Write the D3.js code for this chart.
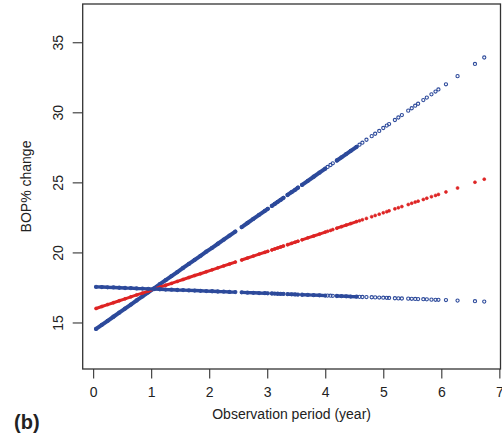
<!DOCTYPE html>
<html><head><meta charset="utf-8">
<script src="https://cdn.jsdelivr.net/npm/d3@7"></script>
<style>body{margin:0;background:#fff}svg{display:block}text{font-family:"Liberation Sans",Arial,sans-serif;fill:#222}</style>
</head><body><svg id="c" width="502" height="439"></svg>
<script>
// Observation times (years)
const times = [0.05,0.15,0.25,0.35,0.45,0.55,0.65,0.75,0.85,0.95,1.05,1.15,1.25,1.35,1.45,1.55,1.65,1.75,1.85,1.95,2.05,2.15,2.25,2.35,2.45,
  2.56,2.66,2.76,2.86,2.96,3.01, 3.08,3.13,3.18,3.23,3.28, 3.35,3.42,3.48,3.53, 3.60,3.70,3.80,3.90,4.00,
  4.04,4.09,4.13, 4.20,4.28,4.36,4.44,4.54, 4.59,4.64,4.71,
  4.80,4.86,4.93,5.00,5.06,5.10,5.20,5.26,5.32,5.43,5.49,5.55,5.60,5.69,5.75,5.83,5.90,5.95,6.08,6.28,6.58,6.74];
// Dense observation spans (years) where points overlap into a solid band
const denseSpans = [[0.05,2.45],[2.56,3.01],[3.08,3.28],[3.35,3.53],[3.60,4.00],[4.20,4.54]];
// Upper blue series
const blueHigh = [14.54,14.83,15.12,15.41,15.70,15.99,16.28,16.57,16.86,17.15,17.44,17.73,18.02,18.31,18.60,18.89,19.18,19.47,19.76,20.05,20.33,20.62,20.91,21.20,21.49,
  21.81,22.10,22.39,22.68,22.97,23.11, 23.32,23.46,23.61,23.75,23.90, 24.10,24.30,24.47,24.62, 24.82,25.11,25.40,25.69,25.98,
  26.10,26.24,26.36, 26.56,26.79,27.02,27.25,27.54, 27.69,27.83,28.04,
  28.30,28.47,28.67,28.88,29.05,29.16,29.45,29.63,29.80,30.12,30.29,30.47,30.61,30.87,31.05,31.28,31.48,31.63,32.00,32.58,33.45,33.91];
// Red series
const redMid = [16.00,16.14,16.28,16.41,16.55,16.69,16.83,16.97,17.10,17.24,17.38,17.52,17.66,17.79,17.93,18.07,18.21,18.35,18.48,18.62,18.76,18.90,19.04,19.17,19.31,
  19.46,19.60,19.74,19.88,20.01,20.08, 20.18,20.25,20.32,20.39,20.46, 20.55,20.65,20.73,20.80, 20.90,21.04,21.17,21.31,21.45,
  21.51,21.57,21.63, 21.73,21.84,21.95,22.06,22.20, 22.26,22.33,22.43,
  22.55,22.64,22.73,22.83,22.91,22.97,23.11,23.19,23.27,23.42,23.51,23.59,23.66,23.78,23.87,23.98,24.07,24.14,24.32,24.60,25.01,25.23];
// Flat blue series
const blueFlat = [17.54,17.53,17.51,17.50,17.48,17.46,17.45,17.43,17.42,17.40,17.39,17.37,17.35,17.34,17.32,17.31,17.29,17.28,17.26,17.24,17.23,17.21,17.20,17.18,17.17,
  17.15,17.13,17.12,17.10,17.09,17.08, 17.07,17.06,17.05,17.04,17.04, 17.02,17.01,17.00,16.99, 16.98,16.97,16.95,16.94,16.92,
  16.92,16.91,16.90, 16.89,16.88,16.87,16.85,16.84, 16.83,16.82,16.81,
  16.80,16.79,16.78,16.77,16.76,16.75,16.73,16.72,16.71,16.70,16.69,16.68,16.67,16.66,16.65,16.63,16.62,16.62,16.60,16.56,16.52,16.49];
const xTicks = [0,1,2,3,4,5,6,7];
const yTicks = [15,20,25,30,35];
const xTitle = "Observation period (year)";
const yTitle = "BOP% change";
const panelLabel = "(b)";

const BLUE = "#2d4a9b", RED = "#de2424";
const svg = d3.select("#c");
const L = 82.7, R = 500.5, T = 4, B = 369;
const x = d3.scaleLinear().domain([-0.18, 7.02]).range([L, R]);
const y = d3.scaleLinear().domain([11.68, 37.73]).range([B, T]);

// axes
const xa = svg.append("g").attr("transform", `translate(0,${B})`)
  .call(d3.axisBottom(x).tickValues(xTicks).tickSize(9.5).tickPadding(9).tickFormat(d3.format("d")));
const ya = svg.append("g").attr("transform", `translate(${L},0)`)
  .call(d3.axisLeft(y).tickValues(yTicks).tickSize(10).tickFormat(d3.format("d")));
[xa, ya].forEach(a => { a.select(".domain").remove(); a.selectAll("line").attr("stroke", "#333").attr("stroke-width", 1.1); });
xa.selectAll("text").attr("font-size", 14).attr("fill", "#222").attr("font-family", "Liberation Sans, Arial, sans-serif");
ya.selectAll("text").attr("font-size", 14).attr("fill", "#222").attr("font-family", "Liberation Sans, Arial, sans-serif")
  .attr("x", null).attr("dy", null).attr("text-anchor", "middle")
  .attr("transform", "translate(-20,0) rotate(-90)");

// box
svg.append("rect").attr("x", L).attr("y", T).attr("width", R - L).attr("height", B - T)
  .attr("fill", "none").attr("stroke", "#333").attr("stroke-width", 1.3);

// titles
svg.append("text").attr("x", (L + R) / 2).attr("y", 419).attr("text-anchor", "middle").attr("font-size", 14).text(xTitle);
svg.append("text").attr("transform", `translate(31,${(T + B) / 2}) rotate(-90)`).attr("text-anchor", "middle").attr("font-size", 14).text(yTitle);
svg.append("text").attr("x", 14).attr("y", 429).attr("font-size", 20).attr("font-weight", "bold").attr("fill", "#111").text(panelLabel);

const series = [
  {vals: blueHigh, color: BLUE, open: true, w: 4},
  {vals: redMid, color: RED, open: false, w: 3},
  {vals: blueFlat, color: BLUE, open: true, w: 3.4}
];
const line = d3.line().x(d => x(d[0])).y(d => y(d[1]));
series.forEach(s => {
  const pts = times.map((t, i) => [t, s.vals[i]]);
  const g = svg.append("g");
  denseSpans.forEach(sp => {
    const seg = pts.filter(p => p[0] >= sp[0] - 1e-9 && p[0] <= sp[1] + 1e-9);
    g.append("path").attr("d", line(seg)).attr("fill", "none").attr("stroke", s.color)
      .attr("stroke-width", s.w).attr("stroke-linecap", "round");
  });
  g.selectAll("circle").data(pts).join("circle")
    .attr("cx", d => x(d[0])).attr("cy", d => y(d[1]))
    .attr("r", s.open ? 1.6 : 1.5)
    .attr("fill", s.open ? "none" : s.color)
    .attr("stroke", s.color).attr("stroke-width", s.open ? 1.1 : 0.6);
});
</script></body></html>
